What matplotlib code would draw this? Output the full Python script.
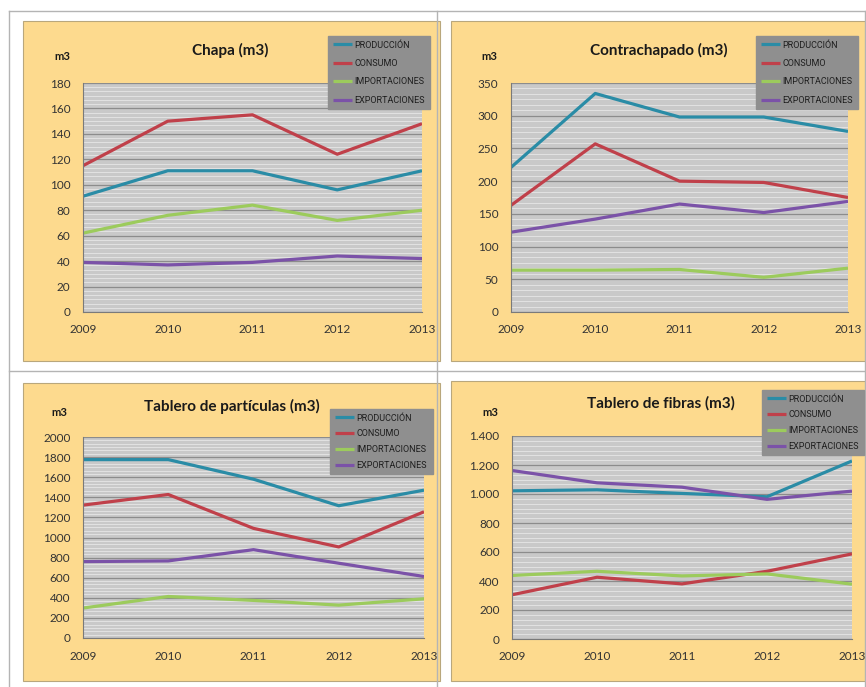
import matplotlib
matplotlib.use("Agg")
import matplotlib.pyplot as plt
from matplotlib.patches import Rectangle
from matplotlib.lines import Line2D
from matplotlib.ticker import MultipleLocator, AutoMinorLocator, FuncFormatter

years = [2009, 2010, 2011, 2012, 2013]
series_names = ["PRODUCCIÓN", "CONSUMO", "IMPORTACIONES", "EXPORTACIONES"]
series_colors = ["#2A8CA6", "#C0404A", "#9CCB5C", "#7B52A8"]

chapa_prod = [91, 111, 111, 96, 111]
chapa_cons = [115, 150, 155, 124, 148]
chapa_imp = [62, 76, 84, 72, 80]
chapa_exp = [39, 37, 39, 44, 42]

contra_prod = [221, 334, 298, 298, 276]
contra_cons = [163, 257, 200, 198, 175]
contra_imp = [64, 64, 65, 53, 67]
contra_exp = [122, 142, 165, 152, 169]

particulas_prod = [1775, 1775, 1580, 1316, 1471]
particulas_cons = [1322, 1428, 1091, 906, 1256]
particulas_imp = [298, 413, 374, 327, 390]
particulas_exp = [760, 767, 879, 744, 612]

fibras_prod = [1022, 1029, 1004, 981, 1228]
fibras_cons = [305, 426, 380, 467, 587]
fibras_imp = [438, 467, 435, 449, 378]
fibras_exp = [1162, 1077, 1047, 963, 1020]

W, H = 866, 687
fig = plt.figure(figsize=(W / 100, H / 100), dpi=100)
fig.patch.set_facecolor("white")

TITLE_FONT = ["Lato", "DejaVu Sans"]
LEG_FONT = ["Liberation Sans Narrow", "Roboto", "DejaVu Sans"]


def fx(x):
    return x / W


def fy(y):
    return 1 - y / H


def box(x0, y0, x1, y1):
    # pixel box (top-left origin) -> figure fraction [l, b, w, h]
    return [fx(x0), fy(y1), fx(x1 - x0), (y1 - y0) / H]


panels = [
    dict(title="Chapa (m3)", data=[chapa_prod, chapa_cons, chapa_imp, chapa_exp],
         panel=(23, 21, 440, 361), ax=(83, 83, 422, 312), ymax=180, step=20,
         title_xy=(230, 50), m3_xy=(62, 57), leg=(328, 36, 430, 110), fmt=False),
    dict(title="Contrachapado (m3)", data=[contra_prod, contra_cons, contra_imp, contra_exp],
         panel=(451, 21, 866, 361), ax=(511, 83, 848, 312), ymax=350, step=50,
         title_xy=(659, 50), m3_xy=(489, 57), leg=(756, 36, 858, 110), fmt=False),
    dict(title="Tablero de partículas (m3)",
         data=[particulas_prod, particulas_cons, particulas_imp, particulas_exp],
         panel=(23, 383, 440, 681), ax=(83, 437, 424, 638), ymax=2000, step=200,
         title_xy=(232, 406), m3_xy=(59, 413), leg=(330, 409, 433, 474), fmt=False),
    dict(title="Tablero de fibras (m3)", data=[fibras_prod, fibras_cons, fibras_imp, fibras_exp],
         panel=(451, 381, 866, 681), ax=(512, 436, 852, 639), ymax=1400, step=200,
         title_xy=(661, 403), m3_xy=(490, 412), leg=(762, 390, 864, 455), fmt=True),
]

for p in panels:
    x0, y0, x1, y1 = p["panel"]
    fig.add_artist(Rectangle((fx(x0), fy(y1)), fx(x1 - x0), (y1 - y0) / H,
                             transform=fig.transFigure, facecolor="#FDDA8E",
                             edgecolor="#B9A77C", lw=0.8, zorder=0.5))

    ax = fig.add_axes(box(*p["ax"]))
    ax.set_facecolor("#C9C9C9")
    ax.set_zorder(1)
    for name, vals, col in zip(series_names, p["data"], series_colors):
        ax.plot(years, vals, color=col, lw=2.3, label=name, solid_capstyle="butt")

    ax.set_xlim(years[0], years[-1])
    ax.set_ylim(0, p["ymax"])
    ax.set_xticks(years)
    ax.yaxis.set_major_locator(MultipleLocator(p["step"]))
    ax.yaxis.set_minor_locator(AutoMinorLocator(6))
    ax.grid(which="major", axis="y", color="#8C8C8C", lw=0.9)
    ax.grid(which="minor", axis="y", color="#E6E6E6", lw=0.6)
    ax.set_axisbelow(True)
    if p["fmt"]:
        ax.yaxis.set_major_formatter(FuncFormatter(lambda v, pos: f"{int(v):,}".replace(",", ".")))
    for s in ["top", "right"]:
        ax.spines[s].set_visible(False)
    ax.spines["left"].set_color("#7A7A7A")
    ax.spines["bottom"].set_color("#7A7A7A")
    ax.tick_params(which="both", length=0)
    ax.tick_params(axis="y", pad=9, labelsize=8.5, labelcolor="#333333")
    ax.tick_params(axis="x", pad=9, labelsize=8.5, labelcolor="#333333")
    for lab in ax.get_xticklabels() + ax.get_yticklabels():
        lab.set_family(TITLE_FONT)

    fig.text(fx(p["title_xy"][0]), fy(p["title_xy"][1]), p["title"], ha="center", va="center",
             fontsize=11, fontweight="bold", family=TITLE_FONT, color="#1A1A1A")
    fig.text(fx(p["m3_xy"][0]), fy(p["m3_xy"][1]), "m3", ha="center", va="center",
             fontsize=8, fontweight="bold", family=TITLE_FONT, color="#1A1A1A")

    lx0, ly0, lx1, ly1 = p["leg"]
    leg = ax.legend(loc="upper left", bbox_to_anchor=(fx(lx0), fy(ly1), fx(lx1 - lx0), (ly1 - ly0) / H),
                    bbox_transform=fig.transFigure, mode="expand", frameon=True, fancybox=False,
                    facecolor="#8F8F8F", edgecolor="#8F8F8F", framealpha=1,
                    prop=dict(family=LEG_FONT, size=6.5), handlelength=2.2, handletextpad=0.2,
                    labelspacing=1.05 if ly1 - ly0 > 70 else 0.75,
                    borderpad=0.5, borderaxespad=0)
    for t in leg.get_texts():
        t.set_color("#1E1E1E")
    leg.set_zorder(5)

# table lines of the page, drawn over the panels like in the original document
for (x0, y0, x1, y1) in [(9, 11, 865, 11), (9, 371, 865, 371),
                         (9, 11, 9, 687), (437, 11, 437, 687), (865, 11, 865, 687)]:
    fig.add_artist(Line2D([fx(x0), fx(x1)], [fy(y0), fy(y1)], color="#B4B4B4", lw=1.0, zorder=0.8))

fig.savefig("out.png", dpi=100)
